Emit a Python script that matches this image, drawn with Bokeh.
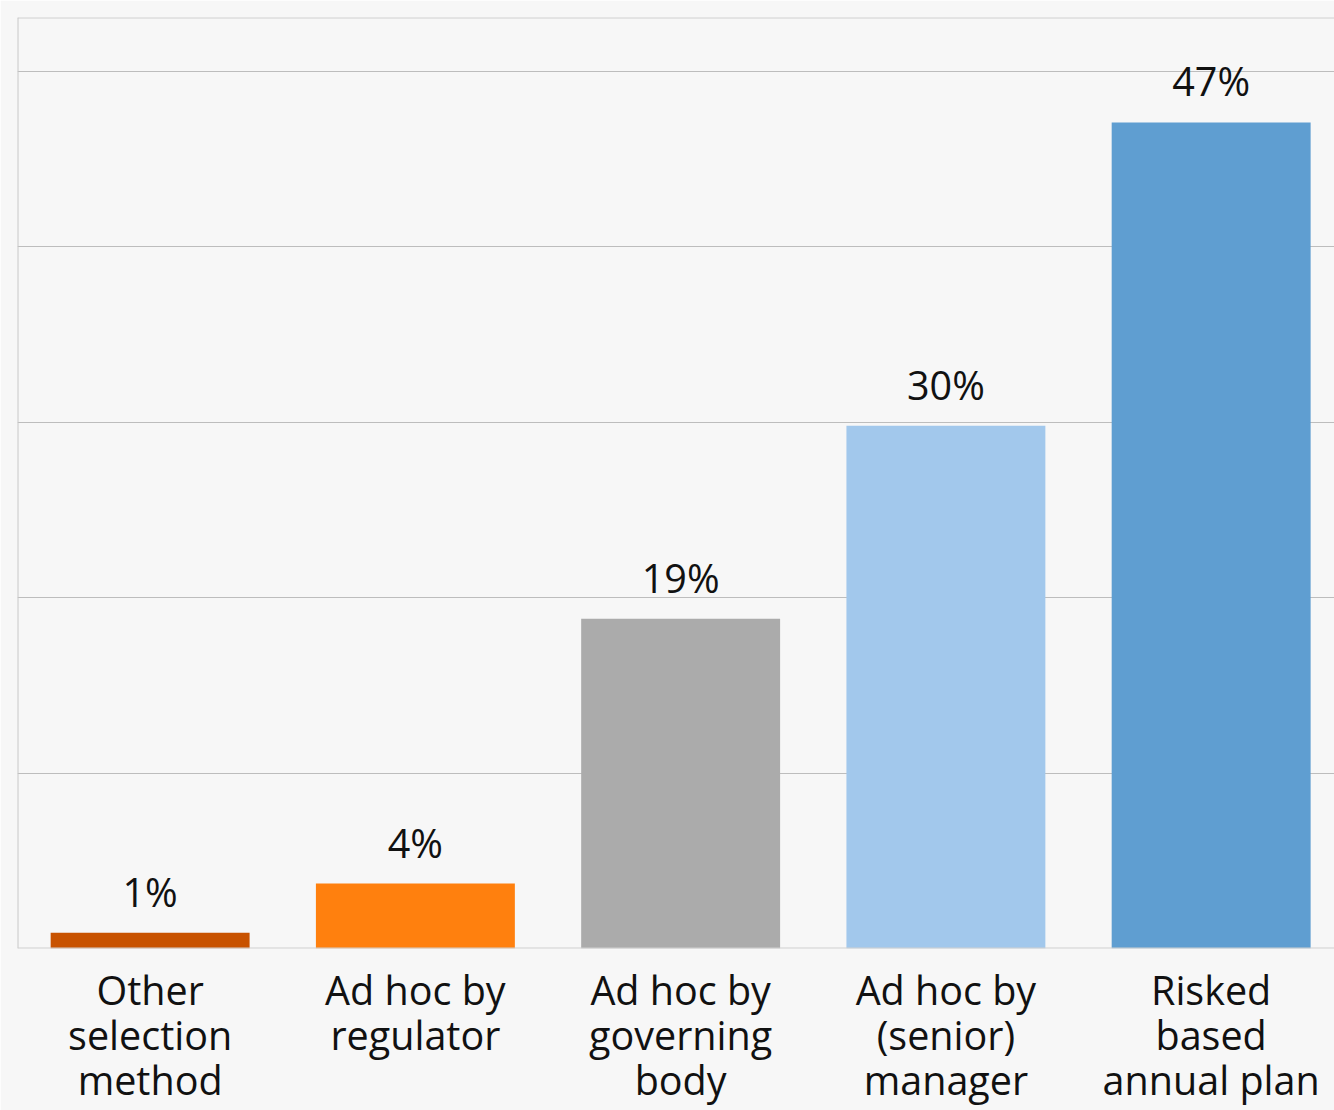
from bokeh.plotting import figure
from bokeh.models import Range1d, FixedTicker, ColumnDataSource, Span
from bokeh.core.properties import value
from bokeh.embed import file_html
from bokeh.resources import INLINE

# ---- data ----
categories = ["Other\nselection\nmethod", "Ad hoc by\nregulator", "Ad hoc by\ngoverning\nbody",
              "Ad hoc by\n(senior)\nmanager", "Risked\nbased\nannual plan"]
values = [0.9, 3.7, 18.8, 29.8, 47.1]
value_labels = ["1%", "4%", "19%", "30%", "47%"]
colors = ["#C85200", "#FF800E", "#ABABAB", "#A2C8EC", "#5F9ED1"]
grid_ticks = [10, 20, 30, 40, 50]

xs = list(range(len(categories)))
src = ColumnDataSource(dict(x=xs, value=values, label=value_labels, color=colors))

BG = "#f7f7f7"
x0, x1 = -0.5, 4.465
y0, y1 = 0, 53.08
p = figure(width=1334, height=1110,
           x_range=Range1d(x0, x1), y_range=Range1d(y0, y1),
           output_backend="svg", toolbar_location=None,
           min_border_left=17, min_border_top=17, min_border_right=0, min_border_bottom=0,
           background_fill_color=BG, border_fill_color=BG)

p.outline_line_color = None
p.add_layout(Span(location=y1, dimension="width", line_color="#d0d0d0", line_width=2))
p.add_layout(Span(location=x0, dimension="height", line_color="#c8c8c8", line_width=2))
p.add_layout(Span(location=y0, dimension="width", line_color="#d0d0d0", line_width=2))

p.vbar(x="x", top="value", width=0.75, color="color", line_color=None, source=src)
p.text(x="x", y="value", text="label", source=src,
       text_font=value("Open Sans"), text_font_size="39.5px", text_color="#111111",
       text_align="center", text_baseline="alphabetic", y_offset=-41)

p.yaxis.visible = False
p.xgrid.grid_line_color = None
p.ygrid.ticker = FixedTicker(ticks=grid_ticks)
p.ygrid.grid_line_color = "#bdbdbd"
p.ygrid.grid_line_width = 1

ax = p.xaxis[0]
ax.ticker = FixedTicker(ticks=xs)
ax.major_label_overrides = {i: c for i, c in zip(xs, categories)}
ax.axis_line_color = None
ax.major_tick_line_color = None
ax.minor_tick_line_color = None
ax.major_label_standoff = 8
ax.major_label_text_font = "Open Sans"
ax.major_label_text_font_size = "39.5px"
ax.major_label_text_color = "#111111"
ax.major_label_text_line_height = 0.84

html = file_html(p, INLINE)
html = html.replace("<body>", '<body style="background:%s;">' % BG, 1)
open("out.html", "w").write(html)
